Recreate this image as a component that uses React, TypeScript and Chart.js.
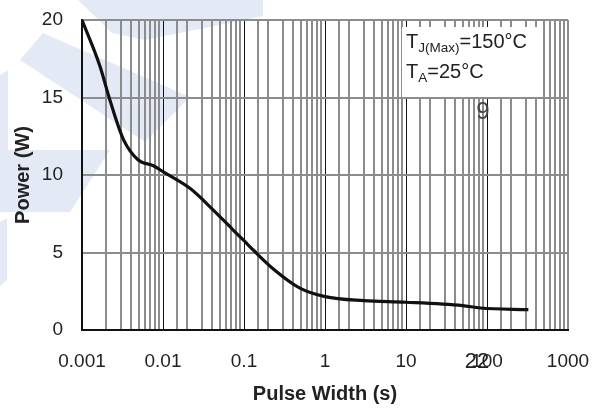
import React, { useEffect, useRef } from "react";
import { Chart, registerables } from "chart.js";

Chart.register(...registerables);

const pulseWidth = [0.001, 0.00167, 0.00222, 0.00324, 0.00495, 0.0076, 0.0101, 0.0215, 0.0418, 0.0735, 0.1, 0.13, 0.23, 0.49, 1, 3, 10, 50, 83, 324];
const power = [20, 17.0, 14.8, 12.3, 10.97, 10.6, 10.2, 9.14, 7.74, 6.45, 5.76, 5.16, 3.94, 2.7, 2.15, 1.89, 1.79, 1.57, 1.42, 1.31];
const xTickLabels = ["0.001", "0.01", "0.1", "1", "10", "100", "1000"];
const yTickValues = [0, 5, 10, 15, 20];

const FONT = "'Liberation Sans', Arial, sans-serif";

const isDecade = (v: number) => {
  const l = Math.log10(v);
  return Math.abs(l - Math.round(l)) < 1e-6;
};

const watermark = {
  id: "watermark",
  beforeDraw(chart: any) {
    const ctx = chart.ctx;
    ctx.save();
    ctx.fillStyle = "#e3e9f5";
    const polys = [
      [[78, 0], [263, 0], [263, 16], [145, 40], [112, 33]],
      [[20, 60], [43, 33], [190, 97], [145, 142]],
      [[0, 75], [8, 70], [8, 150], [110, 150], [70, 212], [0, 212]],
      [[0, 222], [7, 218], [7, 280], [0, 286]],
    ];
    for (const p of polys) {
      ctx.beginPath();
      ctx.moveTo(p[0][0], p[0][1]);
      for (let i = 1; i < p.length; i++) ctx.lineTo(p[i][0], p[i][1]);
      ctx.closePath();
      ctx.fill();
    }
    ctx.restore();
  },
};

const annotation = {
  id: "annotation",
  afterDraw(chart: any) {
    const ctx = chart.ctx;
    ctx.save();
    ctx.fillStyle = "#ffffff";
    ctx.fillRect(402, 27, 141, 70);
    ctx.fillStyle = "#222";
    ctx.textBaseline = "alphabetic";
    ctx.textAlign = "left";
    ctx.font = `20px ${FONT}`;
    let x = 406;
    ctx.fillText("T", x, 48);
    x += ctx.measureText("T").width;
    ctx.font = `13.5px ${FONT}`;
    ctx.fillText("J(Max)", x, 52);
    x += ctx.measureText("J(Max)").width;
    ctx.font = `20px ${FONT}`;
    ctx.fillText("=150°C", x, 48);
    x = 406;
    ctx.fillText("T", x, 78);
    x += ctx.measureText("T").width;
    ctx.font = `13.5px ${FONT}`;
    ctx.fillText("A", x, 82);
    x += ctx.measureText("A").width;
    ctx.font = `20px ${FONT}`;
    ctx.fillText("=25°C", x, 78);
    ctx.fillStyle = "#444";
    ctx.textAlign = "center";
    ctx.textBaseline = "middle";
    ctx.font = `24px ${FONT}`;
    ctx.fillText("9", 483, 112);
    ctx.fillStyle = "#222";
    ctx.font = `22px ${FONT}`;
    ctx.fillText("22", 477, 362);
    ctx.restore();
  },
};

export default function App() {
  const ref = useRef<HTMLCanvasElement | null>(null);
  useEffect(() => {
    if (!ref.current) return;
    const chart = new Chart(ref.current, {
      type: "line",
      data: {
        datasets: [
          {
            data: pulseWidth.map((x, i) => ({ x, y: power[i] })),
            borderColor: "#111",
            borderWidth: 3.2,
            pointRadius: 0,
            cubicInterpolationMode: "monotone",
            fill: false,
          },
        ],
      },
      options: {
        animation: false,
        responsive: false,
        devicePixelRatio: 1,
        layout: { padding: { left: 0, right: 32, top: 20, bottom: 0 } },
        plugins: { legend: { display: false }, tooltip: { enabled: false } },
        scales: {
          x: {
            type: "logarithmic",
            min: 0.001,
            max: 1000,
            afterFit: (s: any) => {
              s.height = 78;
              s.paddingLeft = 0;
              s.paddingRight = 0;
              s.paddingTop = 0;
              s.paddingBottom = 0;
            },
            border: { display: true, color: "#111", width: 2 },
            grid: {
              drawTicks: false,
              color: (c: any) => {
                const v = c.tick ? c.tick.value : 0;
                if (v >= 1000 - 1e-6) return "#8c8c8c";
                return isDecade(v) ? "#111" : "#8c8c8c";
              },
              lineWidth: (c: any) => {
                const v = c.tick ? c.tick.value : 0;
                if (v >= 1000 - 1e-6) return 2;
                return isDecade(v) ? 1 : 2;
              },
            },
            ticks: {
              autoSkip: false,
              maxRotation: 0,
              padding: 20,
              color: "#222",
              font: { family: FONT, size: 19 },
              callback: (v: any) => {
                const n = Number(v);
                if (!isDecade(n)) return "";
                const e = Math.round(Math.log10(n)) + 3;
                return xTickLabels[e] ?? "";
              },
            },
            title: {
              display: true,
              text: "Pulse Width (s)",
              color: "#222",
              font: { family: FONT, size: 20, weight: "bold" },
              padding: { top: 0, bottom: 2 },
            },
          },
          y: {
            min: 0,
            max: 20,
            afterFit: (s: any) => {
              s.width = 82;
              s.paddingLeft = 0;
              s.paddingRight = 0;
              s.paddingTop = 0;
              s.paddingBottom = 0;
            },
            afterBuildTicks: (s: any) => {
              s.ticks = yTickValues.map((v) => ({ value: v }));
            },
            border: { display: true, color: "#111", width: 2 },
            grid: { drawTicks: false, color: "#8c8c8c", lineWidth: 2 },
            ticks: {
              padding: 19,
              color: "#222",
              font: { family: FONT, size: 19 },
            },
            title: {
              display: true,
              text: "Power (W)",
              color: "#222",
              font: { family: FONT, size: 20, weight: "bold" },
              padding: { top: 11, bottom: 0 },
            },
          },
        },
      },
      plugins: [watermark, annotation],
    } as any);
    return () => chart.destroy();
  }, []);
  return (
    <div style={{ position: "absolute", left: 0, top: 0, width: 600, height: 408, background: "#fff" }}>
      <canvas ref={ref} width={600} height={408} style={{ display: "block" }} />
    </div>
  );
}
